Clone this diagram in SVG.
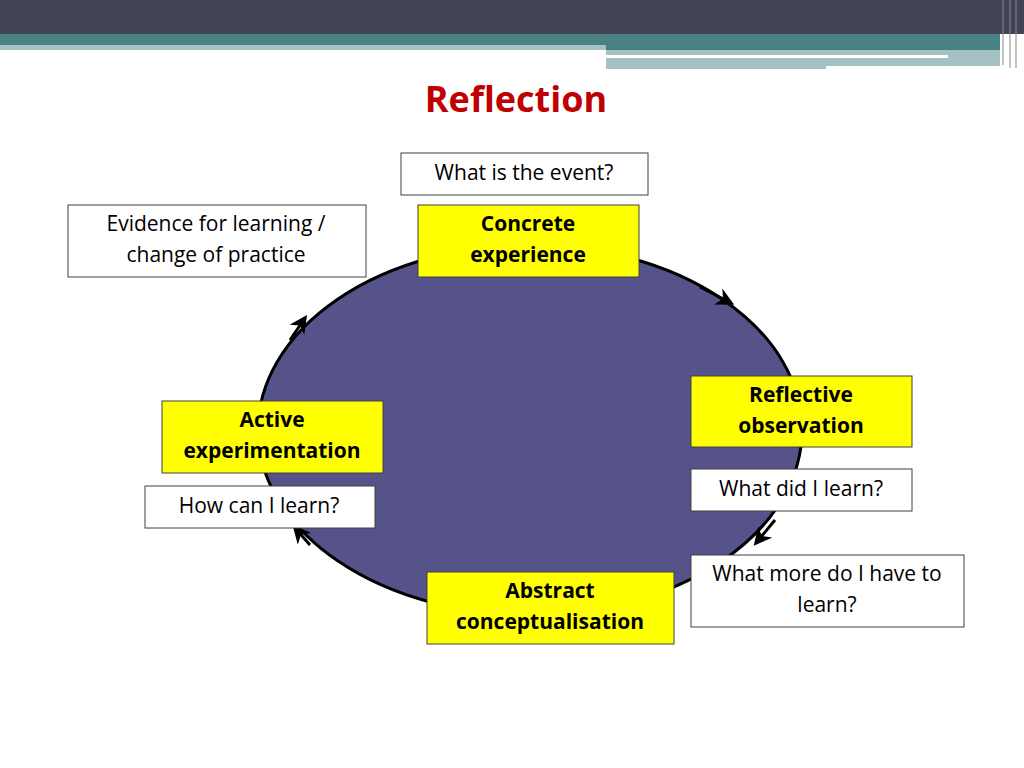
<svg xmlns="http://www.w3.org/2000/svg" width="1024" height="768" viewBox="0 0 1024 768">
<style>
.b{stroke:#404040;stroke-width:1}
.y{fill:#ffff00}
.w{fill:#ffffff}
text{font-family:"Open Sans","Noto Sans",sans-serif;font-size:21px;text-anchor:middle;fill:#000}
.bold{font-weight:bold}
</style>
<defs>
<marker id="ah" viewBox="0 0 10 10" refX="8" refY="5" markerWidth="6" markerHeight="6" orient="auto" markerUnits="strokeWidth"><path d="M0,0 L10,5 L0,10 L3,5 Z" fill="#000"/></marker>
</defs>
<rect x="0" y="0" width="1024" height="34" fill="#424456"/>
<rect x="0" y="34" width="1000" height="16" fill="#4a8185"/>
<rect x="0" y="45" width="606" height="5" fill="#a6c1c3"/>
<rect x="606" y="50" width="394" height="4" fill="#a6c1c3"/>
<rect x="606" y="54" width="394" height="15" fill="#a6c1c3"/>
<rect x="606" y="55" width="342" height="3" fill="#ffffff"/>
<rect x="826" y="66" width="174" height="3" fill="#ffffff"/>
<g stroke="#888" stroke-width="1"><line x1="1003" y1="0" x2="1003" y2="65"/><line x1="1010" y1="0" x2="1010" y2="68"/><line x1="1016" y1="0" x2="1016" y2="68"/></g>
<text x="516" y="112" style="font-size:36px;font-weight:bold;fill:#c00000">Reflection</text>
<g id="connectors">
<ellipse cx="530" cy="430" rx="272" ry="185" fill="#55538a" stroke="#000" stroke-width="3"/>
<path d="M700,287 L731,303" stroke="#000" stroke-width="3" fill="none" marker-end="url(#ah)"/>
<path d="M775,520 L756,543" stroke="#000" stroke-width="3" fill="none" marker-end="url(#ah)"/>
<path d="M310,545 L295,528" stroke="#000" stroke-width="3" fill="none" marker-end="url(#ah)"/>
<path d="M290,340 L305,318" stroke="#000" stroke-width="3" fill="none" marker-end="url(#ah)"/>
</g>
<g id="q1"><rect class="w b" x="401" y="153" width="247" height="42"/><text x="524" y="180">What is the event?</text></g>
<g id="ev"><rect class="w b" x="68" y="205" width="298" height="72"/><text x="216" y="231">Evidence for learning /</text><text x="216" y="262">change of practice</text></g>
<g id="ce"><rect class="y b" x="418" y="205" width="221" height="72"/><text class="bold" x="528" y="231">Concrete</text><text class="bold" x="528" y="262">experience</text></g>
<g id="ro"><rect class="y b" x="691" y="376" width="221" height="71"/><text class="bold" x="801" y="402">Reflective</text><text class="bold" x="801" y="433">observation</text></g>
<g id="q2"><rect class="w b" x="691" y="469" width="221" height="42"/><text x="801" y="496">What did I learn?</text></g>
<g id="ae"><rect class="y b" x="162" y="401" width="221" height="72"/><text class="bold" x="272" y="427">Active</text><text class="bold" x="272" y="458">experimentation</text></g>
<g id="q3"><rect class="w b" x="145" y="486" width="230" height="42"/><text x="259" y="513">How can I learn?</text></g>
<g id="q4"><rect class="w b" x="691" y="555" width="273" height="72"/><text x="827" y="581">What more do I have to</text><text x="827" y="612">learn?</text></g>
<g id="ac"><rect class="y b" x="427" y="572" width="247" height="72"/><text class="bold" x="550" y="598">Abstract</text><text class="bold" x="550" y="629">conceptualisation</text></g>
</svg>
